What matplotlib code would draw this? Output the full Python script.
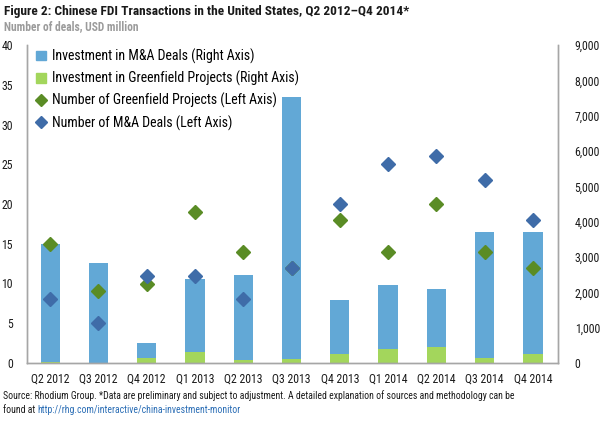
import matplotlib
matplotlib.use("Agg")
import matplotlib.pyplot as plt
from matplotlib import font_manager
from matplotlib.ticker import FuncFormatter, MultipleLocator
from matplotlib.lines import Line2D
from matplotlib.patches import Patch

# --------- data -----------------------------------
quarters = ["Q2 2012", "Q3 2012", "Q4 2012", "Q1 2013", "Q2 2013", "Q3 2013",
            "Q4 2013", "Q1 2014", "Q2 2014", "Q3 2014", "Q4 2014"]
greenfield_usd = [40, 10, 140, 300, 85, 113, 255, 396, 443, 141, 255]
ma_usd = [3340, 2810, 435, 2070, 2405, 7407, 1530, 1814, 1652, 3575, 3445]
greenfield_n = [15, 9, 10, 19, 14, 12, 18, 14, 20, 14, 12]
ma_n = [8, 5, 11, 11, 8, 12, 20, 25, 26, 23, 18]

# --------- fonts: a narrow face if there is one ----------
names = {f.name for f in font_manager.fontManager.ttflist}
narrow = None
for cand in ["Roboto Condensed", "Archivo Narrow", "PT Sans Narrow", "Liberation Sans Narrow"]:
    if cand in names:
        narrow = cand
        break
if narrow:
    plt.rcParams["font.family"] = [narrow, "DejaVu Sans"]
    k = 1.0
else:
    plt.rcParams["font.family"] = ["DejaVu Sans"]
    k = 0.8

C_MA = "#62a8d6"
C_GF = "#a3d65c"
C_GFN = "#5a8c25"
C_MAN = "#3f6ca8"
GRID = "#a6a6a6"
INK = "#1a1a1a"

fig = plt.figure(figsize=(6.04, 4.26), dpi=100)
ax = fig.add_axes([27 / 604, 63 / 426, 531 / 604, 318 / 426])
ax2 = ax.twinx()

x = list(range(len(quarters)))
ax2.bar(x, greenfield_usd, width=0.4, color=C_GF, zorder=2)
ax2.bar(x, ma_usd, width=0.4, bottom=greenfield_usd, color=C_MA, zorder=2)

# points go over the bars
ax.set_zorder(ax2.get_zorder() + 1)
ax.patch.set_visible(False)
ax.plot(x, greenfield_n, linestyle="none", marker="D", markersize=7, color=C_GFN)
ax.plot(x, ma_n, linestyle="none", marker="D", markersize=7, color=C_MAN)

ax.set_xlim(-0.48, 10.52)
ax.set_ylim(0, 40)
ax2.set_ylim(0, 9000)
ax.yaxis.set_major_locator(MultipleLocator(5))
ax2.yaxis.set_major_locator(MultipleLocator(1000))
ax2.yaxis.set_major_formatter(FuncFormatter(lambda v, p: f"{int(v):,}"))
ax.set_xticks(x)
ax.set_xticklabels(quarters)

for a in (ax, ax2):
    a.spines["top"].set_visible(False)
    for s in ("left", "right", "bottom"):
        a.spines[s].set_color(GRID)
        a.spines[s].set_linewidth(1.0)
    a.tick_params(length=0, labelsize=8.5 * k, colors=INK)
ax.tick_params(axis="y", pad=10)
ax2.tick_params(axis="y", pad=12)
ax.tick_params(axis="x", pad=7)

handles = [
    Patch(color=C_MA, label="Investment in M&A Deals (Right Axis)"),
    Patch(color=C_GF, label="Investment in Greenfield Projects (Right Axis)"),
    Line2D([], [], linestyle="none", marker="D", markersize=6, color=C_GFN,
           label="Number of Greenfield Projects (Left Axis)"),
    Line2D([], [], linestyle="none", marker="D", markersize=6, color=C_MAN,
           label="Number of M&A Deals (Left Axis)"),
]
ax.legend(handles=handles, loc="upper left", frameon=False, fontsize=10 * k,
          handlelength=0.7, handleheight=0.7, handletextpad=0.45,
          labelspacing=0.5, borderpad=0.1, borderaxespad=0.0,
          bbox_to_anchor=(0.015, 0.994))

fig.text(0.006, 1 - 11 / 426, "Figure 2: Chinese FDI Transactions in the United States, Q2 2012\u2013Q4 2014*",
         fontsize=9.6 * k, fontweight="bold", va="center", ha="left", color=INK)
fig.text(0.006, 1 - 27 / 426, "Number of deals, USD million",
         fontsize=8.3 * k, fontweight="bold", va="center", ha="left", color="#9b9b9b")
fig.text(0.005, 1 - 396 / 426,
         "Source: Rhodium Group. *Data are preliminary and subject to adjustment. "
         "A detailed explanation of sources and methodology can be",
         fontsize=7.0 * k, va="center", ha="left", color=INK)
t = fig.text(0.005, 1 - 410 / 426, "found at ", fontsize=7.0 * k, va="center", ha="left", color=INK)
fig.canvas.draw()
bb = t.get_window_extent()
fig.text(bb.x1 / fig.bbox.width, 1 - 410 / 426, "http://rhg.com/interactive/china-investment-monitor",
         fontsize=7.0 * k, va="center", ha="left", color="#2a6db5")

fig.savefig("out.png", dpi=100)
